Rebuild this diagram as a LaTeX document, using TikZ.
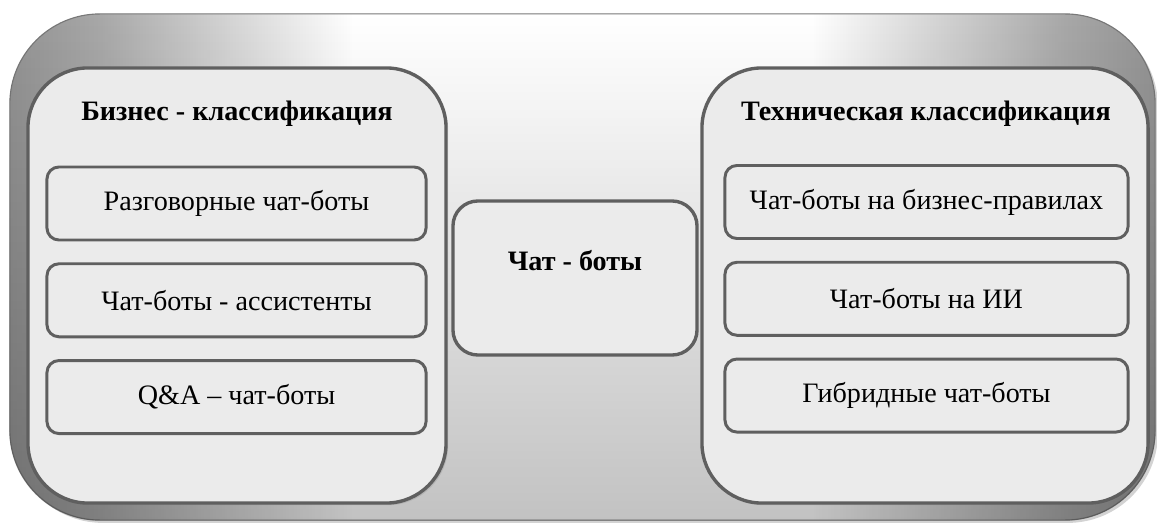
\documentclass[tikz,border=0pt]{standalone}
\usepackage{fontspec}
\setmainfont{Liberation Serif}
\usepackage{tikz}
\usetikzlibrary{positioning}
\usetikzlibrary{shadows}
\usetikzlibrary{fadings}

\definecolor{panelfill}{RGB}{235,235,235}
\definecolor{panelline}{RGB}{95,95,95}
\definecolor{frameline}{RGB}{120,120,120}

% sides of the big frame grey, middle white (central 50bp = the frame)
\pgfdeclarehorizontalshading{framesides}{100bp}{%
  color(0bp)=(black!42); color(25bp)=(black!42); color(29bp)=(black!34);
  color(40bp)=(white); color(60bp)=(white); color(71bp)=(black!34);
  color(75bp)=(black!42); color(100bp)=(black!42)}

\tikzset{
  bigfont/.style={font=\fontsize{20pt}{23pt}\selectfont},
  frame/.style={draw=frameline, line width=0.8pt, shade, shading=framesides,
                rounded corners=2.25cm, minimum width=28.625cm, minimum height=12.65cm,
                drop shadow={shadow xshift=2pt, shadow yshift=-2pt, opacity=.35}},
  panel/.style={draw=panelline, line width=2.4pt, fill=panelfill,
                rounded corners=1.5cm, minimum height=10.875cm,
                drop shadow={shadow xshift=1.5pt, shadow yshift=-1.5pt, opacity=.25}},
  itembox/.style={draw=panelline, line width=2.1pt, fill=panelfill, bigfont,
                  rounded corners=0.3cm, minimum height=1.825cm},
  headline/.style={font=\fontsize{20pt}{23pt}\selectfont\bfseries},
}

\begin{document}
\begin{tikzpicture}[x=0.025cm, y=-0.025cm]

	\useasboundingbox (0,0) rectangle (1157,531);

	% the big shaded frame round everything
	\node (frame) [frame] at (582.5,267) {};
	% it gets darker towards the bottom
	\fill[black, opacity=0.24, path fading=north, rounded corners=2.25cm]
		(frame.south west) rectangle (frame.north east);

	%%%%%%%%%%%%%%%%%%%%%%%%%%%%%%%%%%%%%%%%%%%%%%%%%%%%%%%%%
	% left panel: business classification
	\node (busPanel) [panel, minimum width=10.45cm] at (237,285.5) {};
	\node (busTitle) [headline] at (237,114) {Бизнес - классификация};

	\node (busA) [itembox, minimum width=9.475cm] at (236.5,203.5) {Разговорные чат-боты};
	\node (busB) [itembox, minimum width=9.475cm, below=0.52cm of busA] {Чат-боты - ассистенты};
	\node (busC) [itembox, minimum width=9.475cm, below=0.52cm of busB] {Q\&A -- чат-боты};

	%%%%%%%%%%%%%%%%%%%%%%%%%%%%%%%%%%%%%%%%%%%%%%%%%%%%%%%%%
	% right panel: technical classification
	\node (techPanel) [panel, minimum width=11.15cm] at (925,285.5) {};
	\node (techTitle) [headline] at (926,114) {Техническая классификация};

	\node (techA) [itembox, minimum width=10.075cm] at (926.5,202) {Чат-боты на бизнес-правилах};
	\node (techB) [itembox, minimum width=10.075cm, below=0.52cm of techA] {Чат-боты на ИИ};
	\node (techC) [itembox, minimum width=10.075cm, below=0.52cm of techB] {Гибридные чат-боты};

	%%%%%%%%%%%%%%%%%%%%%%%%%%%%%%%%%%%%%%%%%%%%%%%%%%%%%%%%%
	% centre: the subject itself
	% NOTE: text depth > text height lifts the words above the middle
	\node (bots) [draw=panelline, line width=2.4pt, fill=panelfill, rounded corners=0.625cm,
	              minimum width=6.1cm, minimum height=3.85cm,
	              text height=0.4cm, text depth=0.75cm, headline] at (575,278) {Чат - боты};

\end{tikzpicture}
\end{document}
